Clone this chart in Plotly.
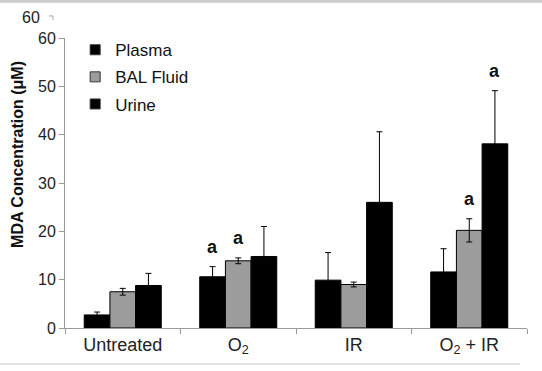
import plotly.graph_objects as go

categories = ["Untreated", "O<sub>2</sub>", "IR", "O<sub>2</sub> + IR"]
plasma = [2.7, 10.6, 9.9, 11.6]
plasma_err = [0.6, 2.1, 5.7, 4.8]
bal = [7.5, 13.9, 9.0, 20.2]
bal_err = [0.7, 0.6, 0.5, 2.4]
urine = [8.8, 14.8, 26.0, 38.1]
urine_err = [2.5, 6.2, 14.6, 11.0]

# significance markers: (category index, series, label)
sig_marks = [(1, "Plasma", "a"), (1, "BAL Fluid", "a"), (3, "BAL Fluid", "a"), (3, "Urine", "a")]

fig = go.Figure()
series = [("Plasma", plasma, plasma_err, "#000000"),
          ("BAL Fluid", bal, bal_err, "#9c9c9c"),
          ("Urine", urine, urine_err, "#000000")]
for name, vals, errs, col in series:
    fig.add_trace(go.Bar(
        name=name, x=categories, y=vals, showlegend=False,
        marker=dict(color=col, line=dict(color="#000000", width=1)),
        error_y=dict(type="data", array=errs, visible=True, color="#000000", thickness=1, width=3),
    ))
# legend entries with small square keys
for name, vals, errs, col in series:
    fig.add_trace(go.Scatter(
        name=name, x=[None], y=[None], mode="markers", legendgroup=name,
        marker=dict(symbol="square", size=10, color=col, line=dict(color="#333333", width=1)),
    ))

offsets = {"Plasma": -1, "BAL Fluid": 0, "Urine": 1}
lookup = {"Plasma": (plasma, plasma_err), "BAL Fluid": (bal, bal_err), "Urine": (urine, urine_err)}
for ci, s, lab in sig_marks:
    v, e = lookup[s]
    top = v[ci] + e[ci]
    fig.add_annotation(x=ci + offsets[s] * 0.2222, y=top, xref="x", yref="y", text="<b>" + lab + "</b>",
                       showarrow=False, yshift=20, yanchor="middle",
                       font=dict(size=18, color="#111111"))

fig.update_layout(
    width=542, height=371,
    margin=dict(l=65, r=15, t=38, b=43),
    paper_bgcolor="white", plot_bgcolor="white",
    barmode="group", bargap=0.333, bargroupgap=0,
    font=dict(family="Arial, Liberation Sans", size=17, color="#222222"),
    legend=dict(x=0.022, y=1.02, xanchor="left", yanchor="top", bgcolor="rgba(0,0,0,0)",
                font=dict(size=17, color="#111111"), tracegroupgap=2, itemwidth=30),
    showlegend=True,
)
fig.update_yaxes(range=[0, 60], dtick=10, showgrid=False, showline=True, linecolor="#999999", linewidth=1,
                 ticks="outside", ticklen=5, tickcolor="#999999", zeroline=False,
                 tickfont=dict(size=16, color="#222222"))
fig.update_xaxes(showline=True, linecolor="#999999", linewidth=1, ticks="outside", ticklen=5,
                 tickcolor="#999999", tickson="boundaries", tickfont=dict(size=18, color="#222222"))

# y axis title, placed as in the source (slightly above centre)
fig.add_annotation(xref="paper", yref="paper", x=-0.104, y=0.6, text="<b>MDA Concentration (μM)</b>",
                   textangle=-90, showarrow=False, xanchor="center", yanchor="middle",
                   font=dict(size=16, color="#111111"))

# artefacts of the source image: stray top "60" label, border lines
fig.add_annotation(xref="paper", yref="paper", x=-0.0736, y=1.072, text="60", showarrow=False,
                   font=dict(size=16, color="#222222"), xanchor="center", yanchor="middle")
fig.add_shape(type="line", xref="paper", yref="paper", x0=-0.035, x1=-0.026, y0=1.076, y1=1.076,
              line=dict(color="#aaaaaa", width=1))
fig.add_shape(type="line", xref="paper", yref="paper", x0=-0.026, x1=-0.026, y0=1.076, y1=1.062,
              line=dict(color="#aaaaaa", width=1))
fig.add_shape(type="line", xref="paper", yref="paper", x0=-0.2, x1=1.05, y0=1.127, y1=1.127,
              line=dict(color="#cccccc", width=3))
fig.add_shape(type="line", xref="paper", yref="paper", x0=-0.141, x1=0.985, y0=-0.124, y1=-0.124,
              line=dict(color="#e4e4e4", width=2))

fig.write_html("out.html", config={"displayModeBar": False},
               post_script="document.body.style.margin='0px';")
